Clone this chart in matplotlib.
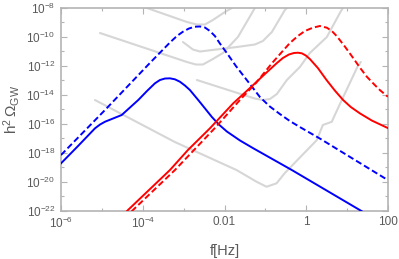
import matplotlib
matplotlib.use("Agg")
import matplotlib.pyplot as plt
import matplotlib.ticker as mticker
import numpy as np

plt.rcParams['font.family'] = ['Liberation Sans', 'DejaVu Sans']
plt.rcParams['mathtext.default'] = 'regular'

# ---- data (log10 f [Hz], log10 h^2 Omega_GW) ----
blue_solid_lf = [-6.000, -5.584, -5.169, -5.046, -4.924, -4.729, -4.516, -4.313, -4.110,
                 -3.897, -3.702, -3.580, -3.457, -3.335, -3.213, -3.091, -2.968, -2.846,
                 -2.643, -2.479, -2.308, -2.137, -1.941, -1.623, -1.306, -0.352, 1.311, 1.555]
blue_solid_lo = [-18.740, -17.544, -16.320, -16.057, -15.863, -15.642, -15.400, -14.881, -14.362,
                 -13.740, -13.207, -12.979, -12.876, -12.862, -12.931, -13.097, -13.360, -13.671,
                 -14.362, -14.936, -15.538, -16.057, -16.541, -17.156, -17.682, -19.203, -21.970, -22.385]

blue_dash_lf = [-6.000, -4.924, -3.824, -3.335, -3.164, -3.017, -2.870, -2.724, -2.601, -2.479,
                -2.357, -2.235, -2.112, -1.917, -1.721, -1.550, -1.379, -1.134, -0.890, -0.645,
                -0.401, -0.156, 0.333, 1.995]
blue_dash_lo = [-18.166, -15.054, -11.797, -10.386, -9.936, -9.639, -9.418, -9.293, -9.279, -9.349,
                -9.591, -9.936, -10.455, -11.216, -12.011, -12.633, -13.256, -14.155, -14.812, -15.331,
                -15.815, -16.230, -17.025, -19.895]

red_solid_lf = [-4.557, -4.362, -3.335, -2.895, -2.357, -1.787, -1.298, -1.012, -0.726, -0.572,
                -0.425, -0.303, -0.205, -0.108, -0.010, 0.088, 0.284, 0.496, 0.699, 0.902,
                1.090, 1.311, 1.604, 1.995]
red_solid_lo = [-22.523, -21.970, -19.203, -17.820, -16.320, -14.591, -13.325, -12.564, -11.824, -11.458,
                -11.216, -11.112, -11.091, -11.133, -11.285, -11.527, -12.149, -12.979, -13.705, -14.362,
                -14.846, -15.282, -15.780, -16.299]

red_dash_lf = [-4.435, -4.240, -3.213, -2.235, -1.623, -1.232, -0.841, -0.597, -0.401, -0.205,
               -0.034, 0.161, 0.333, 0.504, 0.626, 0.748, 0.944, 1.139, 1.311, 1.482,
               1.677, 1.800, 1.995]
red_dash_lo = [-22.523, -21.970, -19.203, -16.299, -14.362, -13.187, -11.824, -11.043, -10.421, -9.936,
               -9.591, -9.362, -9.245, -9.362, -9.591, -9.950, -10.662, -11.423, -12.115, -12.751,
               -13.325, -13.671, -14.134]

# sensitivity curves (gray)
g1_lf = [-4.2, -3.897, -2.919, -2.675, -2.479, -2.284, -1.990, -1.819]
g1_lo = [-7.8, -8.0, -8.968, -9.141, -9.141, -8.830, -8.277, -8.0]
g2_lf = [-5.046, -2.919, -2.699, -2.528, -2.284, -2.039, -1.672, -1.428, -1.257]
g2_lo = [-9.729, -11.734, -11.907, -11.907, -11.527, -11.112, -10.006, -8.83, -8.0]
g3_lf = [-3.017, -2.773, -2.601, -1.697, -1.257, -1.061, -0.841, -0.523, -0.474]
g3_lo = [-10.351, -10.870, -11.008, -10.697, -10.524, -10.282, -9.66, -8.138, -8.0]
g4_lf = [-2.675, -1.257, -1.061, -0.890, -0.719, -0.474, -0.156, 0.088, 0.504, 0.822, 0.895]
g4_lo = [-12.979, -14.259, -14.362, -14.293, -13.947, -12.979, -12.08, -11.112, -10.006, -8.346, -8.0]
g5_lf = [-5.169, -3.213, -1.705, -1.216, -0.972, -0.727, -0.524, 0.259, 0.406,
         0.626, 0.699, 0.870, 1.262, 1.335]
g5_lo = [-14.362, -17.267, -19.203, -20.012, -20.358, -20.123, -19.410, -17.129, -16.091,
         -15.863, -15.4, -14.362, -12.011, -11.734]
gray_curves = [(g1_lf, g1_lo), (g2_lf, g2_lo), (g3_lf, g3_lo), (g4_lf, g4_lo), (g5_lf, g5_lo)]

x_ticks = [1e-6, 1e-4, 1e-2, 1, 100]
x_ticklabels = [r'$10^{-6}$', r'$10^{-4}$', '0.01', '1', '100']
y_ticks = [1e-22, 1e-20, 1e-18, 1e-16, 1e-14, 1e-12, 1e-10, 1e-8]
y_ticklabels = [r'$10^{-22}$', r'$10^{-20}$', r'$10^{-18}$', r'$10^{-16}$',
                r'$10^{-14}$', r'$10^{-12}$', r'$10^{-10}$', r'$10^{-8}$']

fig = plt.figure(figsize=(3.99, 2.59), dpi=100)
ax = fig.add_axes([61/399, 1-210.5/259, (388-61)/399, (210.5-8)/259])

def P(a):
    return 10 ** np.asarray(a)

for lf, lo in gray_curves:
    ax.plot(P(lf), P(lo), color='#d6d6d6', lw=1.5, solid_capstyle='round',
            solid_joinstyle='round', zorder=1)

kw = dict(lw=1.4, zorder=3, solid_joinstyle='round', dash_joinstyle='round')
ax.plot(P(blue_solid_lf), P(blue_solid_lo), color='#0000ff', **kw)
ax.plot(P(blue_dash_lf), P(blue_dash_lo), color='#0000ff', ls=(0, (3.2, 1.6)), **kw)
ax.plot(P(red_solid_lf), P(red_solid_lo), color='#ff0000', **kw)
ax.plot(P(red_dash_lf), P(red_dash_lo), color='#ff0000', ls=(0, (3.2, 1.6)), **kw)

ax.set_xscale('log')
ax.set_yscale('log')
ax.set_xlim(1e-6, 100)
ax.set_ylim(1e-22, 1e-8)

ax.set_xticks(x_ticks)
ax.set_xticklabels(x_ticklabels)
ax.set_xticks([1e-5, 1e-3, 1e-1, 10], minor=True)
ax.set_yticks(y_ticks)
ax.set_yticklabels(y_ticklabels)
ax.set_yticks([1e-21, 1e-19, 1e-17, 1e-15, 1e-13, 1e-11, 1e-9], minor=True)
ax.xaxis.set_minor_formatter(mticker.NullFormatter())
ax.yaxis.set_minor_formatter(mticker.NullFormatter())

for s in ax.spines.values():
    s.set_color('#b4b4b4')
    s.set_linewidth(1.2)
ax.tick_params(which='both', direction='in', top=True, right=True, color='#b4b4b4',
               labelcolor='#5a5a5a', labelsize=8.5, pad=4)
ax.tick_params(which='major', length=4, width=0.8)
ax.tick_params(which='minor', length=2.5, width=0.8)

ax.set_xlabel('f[Hz]', fontsize=10.5, color='#5a5a5a', labelpad=9)
ax.set_ylabel(r'$h^2\,\Omega_{GW}$', fontsize=11, color='#5a5a5a', labelpad=3)

fig.savefig('out.png', dpi=100)
